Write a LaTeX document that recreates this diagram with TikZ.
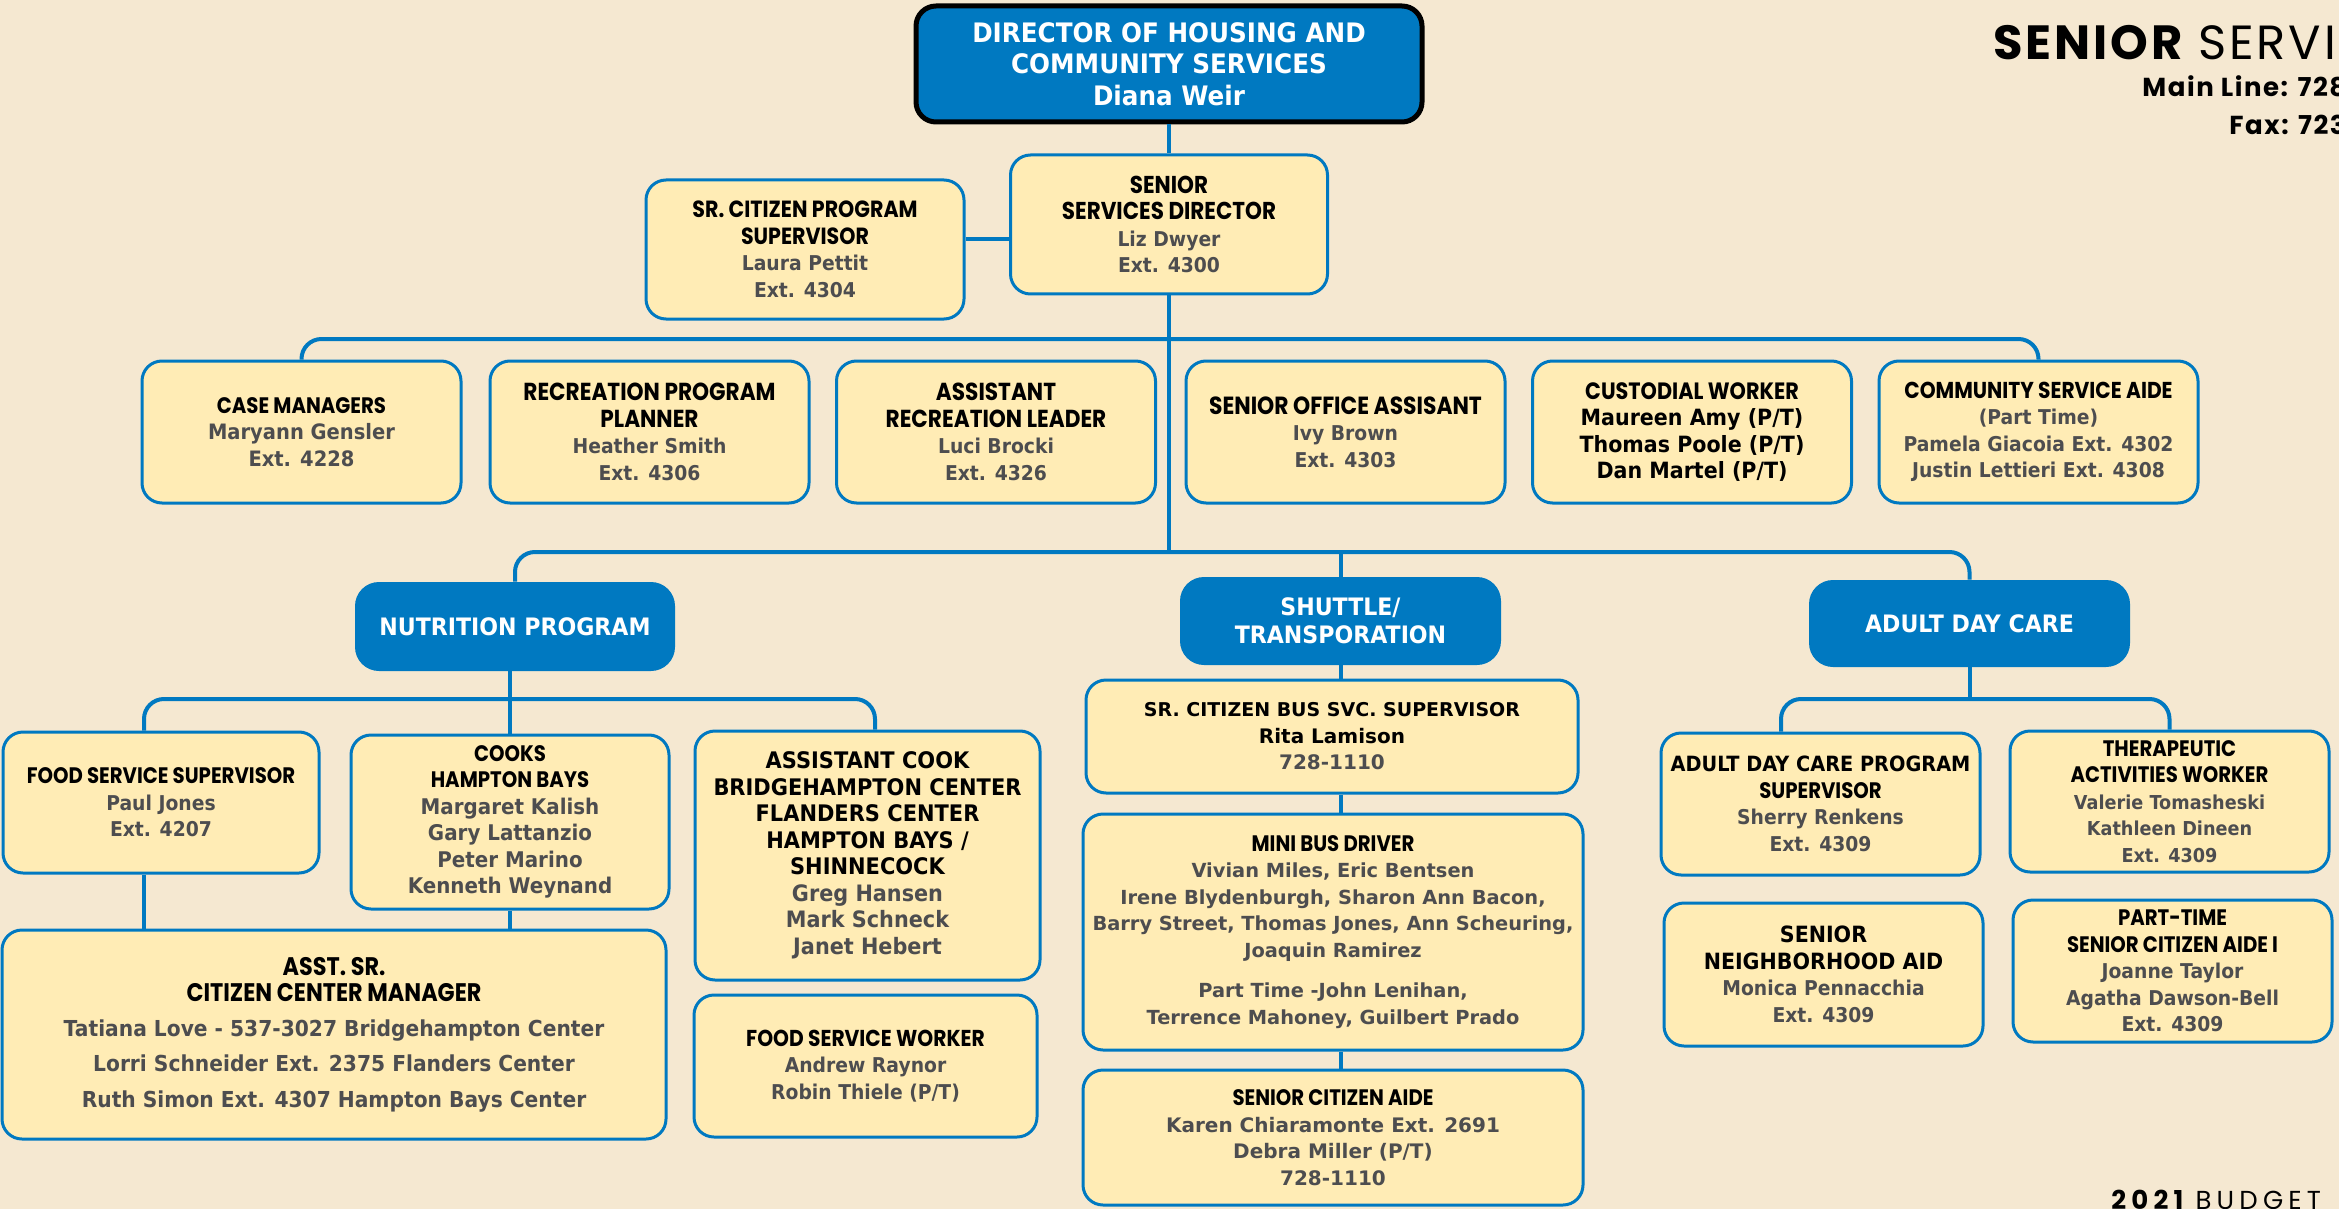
\documentclass[tikz,border=0pt]{standalone}
\usepackage{fontspec}
\setmainfont{DejaVu Sans}
\newfontfamily\headfont[FakeStretch=0.88]{Poppins}
\newfontfamily\namefont[FakeStretch=0.92]{DejaVu Sans}
\newfontfamily\wordfont{DejaVu Sans}
\newfontfamily\titlefont[LetterSpace=6]{Poppins}
\newfontfamily\spacedfont[LetterSpace=20]{Poppins}
\usetikzlibrary{positioning}

\definecolor{pagebg}{RGB}{245,232,209}
\definecolor{cardbg}{RGB}{255,236,181}
\definecolor{orgblue}{RGB}{0,121,193}
\definecolor{namegray}{RGB}{77,77,79}

\newcommand{\hd}[2][11.2]{{\headfont\bfseries\fontsize{#1}{13.25}\selectfont #2}}
\newcommand{\nm}[2][10.2]{{\namefont\bfseries\color{namegray}\fontsize{#1}{13.25}\selectfont #2}}
\newcommand{\bk}[2][10.2]{{\namefont\bfseries\fontsize{#1}{13.25}\selectfont #2}}
\newcommand{\vd}[2][9.7]{{\wordfont\bfseries\color{namegray}\fontsize{#1}{13.4}\selectfont #2}}
\newcommand{\vk}[2][10]{{\wordfont\bfseries\fontsize{#1}{13.4}\selectfont #2}}

\begin{document}
\begin{tikzpicture}[x=0.5pt,y=-0.5pt,
	card/.style={draw=orgblue, line width=1.5pt, fill=cardbg, rounded corners=10pt, align=center, inner sep=1pt, font=\fontsize{10}{13.25}\selectfont},
	head/.style={fill=orgblue, rounded corners=12pt, align=center, text=white, font=\namefont\bfseries\fontsize{12}{14}\selectfont},
	wh/.style 2 args={minimum width=#1*0.5pt, minimum height=#2*0.5pt},
	link/.style={draw=orgblue, line width=2pt},
	bus/.style={link, rounded corners=10pt}]
	\fill[pagebg] (0,0) rectangle (2339,1209);
	\useasboundingbox (0,0) rectangle (2339,1209);

	\node[anchor=base west, inner sep=0pt, font=\titlefont\fontsize{24}{24}\selectfont] (title) at (1993,60) {{\bfseries SENIOR} SERVIC};
	\node[anchor=base west, inner sep=0pt, font=\titlefont\bfseries\fontsize{13}{13}\selectfont] (mainline) at (2142,97) {Main Line: 728};
	\node[anchor=base west, inner sep=0pt, font=\titlefont\bfseries\fontsize{13}{13}\selectfont] (fax) at (2229,135) {Fax: 723};
	\node[anchor=base west, inner sep=0pt, font=\spacedfont\fontsize{13}{13}\selectfont] (budget) at (2111,1209) {{\bfseries 2021} BUDGET};

	\node[head, wh={506}{116}, draw=black, line width=2.5pt, rounded corners=10pt, font=\namefont\bfseries\fontsize{13.4}{15.8}\selectfont] (director) at (1169,64) {DIRECTOR OF HOUSING AND\\COMMUNITY SERVICES\\Diana Weir};
	\node[card, wh={317}{139}] (ssdir) at (1169,224.5) {\hd[12.2]{SENIOR}\\\hd[12.2]{SERVICES DIRECTOR}\\\nm{Liz Dwyer}\\\nm{Ext. 4300}};
	\node[card, wh={318}{139}] (scps) at (805,249.5) {\hd[11.7]{SR. CITIZEN PROGRAM}\\\hd[11.7]{SUPERVISOR}\\\nm{Laura Pettit}\\\nm{Ext. 4304}};

	% staff row
	\node[card, wh={319}{142}] (casemgr) at (301.5,432) {\hd{CASE MANAGERS}\\\nm[10.6]{Maryann Gensler}\\\nm[10.6]{Ext. 4228}};
	\node[card, wh={319}{142}] (recplan) at (649.5,432) {\hd[12.3]{RECREATION PROGRAM}\\\hd[12.3]{PLANNER}\\\nm{Heather Smith}\\\nm{Ext. 4306}};
	\node[card, wh={319}{142}] (asstrec) at (996,432) {\hd[12.3]{ASSISTANT}\\\hd[12.3]{RECREATION LEADER}\\\nm{Luci Brocki}\\\nm{Ext. 4326}};
	\node[card, wh={319}{142}] (offasst) at (1345.5,432) {\hd[12.4]{SENIOR OFFICE ASSISANT}\\\nm{Ivy Brown}\\\nm{Ext. 4303}};
	\node[card, wh={319}{142}] (custod) at (1692,432) {\hd[11.8]{CUSTODIAL WORKER}\\\bk[11.2]{Maureen Amy (P/T)}\\\bk[11.2]{Thomas Poole (P/T)}\\\bk[11.2]{Dan Martel (P/T)}};
	\node[card, wh={319}{142}] (commaide) at (2038.5,432) {\hd[11.5]{COMMUNITY SERVICE AIDE}\\\nm{(Part Time)}\\\nm{Pamela Giacoia Ext. 4302}\\\nm{Justin Lettieri Ext. 4308}};

	\node[head, wh={320}{89}] (nutr) at (515,626.5) {NUTRITION PROGRAM};
	\node[head, wh={321}{88}] (shuttle) at (1340.5,621) {SHUTTLE/\\TRANSPORATION};
	\node[head, wh={321}{87}] (adc) at (1969.5,623.5) {ADULT DAY CARE};

	% nutrition
	\node[card, wh={316}{141}] (fss) at (161,802.5) {\hd{FOOD SERVICE SUPERVISOR}\\\nm{Paul Jones}\\\nm{Ext. 4207}};
	\node[card, wh={318}{174}] (cooks) at (510,822) {\hd{COOKS}\\\hd{HAMPTON BAYS}\\\nm[10.8]{Margaret Kalish}\\\nm[10.8]{Gary Lattanzio}\\\nm[10.8]{Peter Marino}\\\nm[10.8]{Kenneth Weynand}};
	\node[card, wh={345}{249}] (asstcook) at (867.5,855.5) {\bk[11.4]{ASSISTANT COOK}\\\bk[11.4]{BRIDGEHAMPTON CENTER}\\\bk[11.4]{FLANDERS CENTER}\\\bk[11.4]{HAMPTON BAYS /}\\\bk[11.4]{SHINNECOCK}\\\nm[11.3]{Greg Hansen}\\\nm[11.3]{Mark Schneck}\\\nm[11.3]{Janet Hebert}};
	\node[card, wh={664}{209}] (asstsr) at (334,1034.5) {\hd[12.7]{ASST. SR.}\\\hd[12.7]{CITIZEN CENTER MANAGER}\\[4pt]\nm[11]{Tatiana Love - 537-3027 Bridgehampton Center}\\[4.5pt]\nm[11]{Lorri Schneider Ext. 2375 Flanders Center}\\[4.5pt]\nm[11]{Ruth Simon Ext. 4307 Hampton Bays Center}};
	\node[card, wh={343}{142}] (fsw) at (865.5,1066) {\hd[11.5]{FOOD SERVICE WORKER}\\\nm{Andrew Raynor}\\\nm{Robin Thiele (P/T)}};

	% shuttle
	\node[card, wh={492}{113}] (bussup) at (1332,736.5) {\vk[9.5]{SR. CITIZEN BUS SVC. SUPERVISOR}\\\vk{Rita Lamison}\\\vd[10]{728-1110}};
	\node[card, wh={500}{236}] (minibus) at (1333,932) {\hd{MINI BUS DRIVER}\\\vd{Vivian Miles, Eric Bentsen}\\\vd{Irene Blydenburgh, Sharon Ann Bacon,}\\\vd{Barry Street, Thomas Jones, Ann Scheuring,}\\\vd{Joaquin Ramirez}\\[7pt]\vd{Part Time -John Lenihan,}\\\vd{Terrence Mahoney, Guilbert Prado}};
	\node[card, wh={500}{135}] (aide) at (1333,1137.5) {\hd{SENIOR CITIZEN AIDE}\\\vd[10]{Karen Chiaramonte Ext. 2691}\\\vd[10]{Debra Miller (P/T)}\\\vd[10]{728-1110}};

	% adult day care
	\node[card, wh={319}{142}] (adcsup) at (1820.5,804) {\bk[10.5]{ADULT DAY CARE PROGRAM}\\\hd{SUPERVISOR}\\\nm{Sherry Renkens}\\\nm{Ext. 4309}};
	\node[card, wh={319}{141}] (therap) at (2169.5,801.5) {\hd{THERAPEUTIC}\\\hd{ACTIVITIES WORKER}\\\nm[9.6]{Valerie Tomasheski}\\\nm[9.6]{Kathleen Dineen}\\\nm[9.6]{Ext. 4309}};
	\node[card, wh={319}{143}] (sna) at (1823.5,974.5) {\bk[11.2]{SENIOR}\\\bk[11.2]{NEIGHBORHOOD AID}\\\nm{Monica Pennacchia}\\\nm{Ext. 4309}};
	\node[card, wh={319}{142}] (ptsca) at (2172.5,971) {\hd{PART-TIME}\\\hd{SENIOR CITIZEN AIDE I}\\\nm{Joanne Taylor}\\\nm{Agatha Dawson-Bell}\\\nm{Ext. 4309}};

	\coordinate (bus1) at (1169,339);
	\coordinate (bus2) at (1169,552);
	\coordinate (bus3) at (515,699);
	\coordinate (bus4) at (1970,699);

	\draw[link] (director.south) -- (director.south |- ssdir.north);
	\draw[link] ([yshift=5.25pt]scps.east) -- ([yshift=5.25pt]scps.east -| ssdir.west);
	\draw[link] (ssdir.south) -- (bus2);
	\draw[bus] (casemgr.north) -- (casemgr.north |- bus1) -- (commaide.north |- bus1) -- (commaide.north);
	\draw[bus] (nutr.north) -- (nutr.north |- bus2) -- (adc.north |- bus2) -- (adc.north);
	\draw[link] (shuttle.north |- bus2) -- (shuttle.north);

	\draw[link] (cooks.north |- nutr.south) -- (cooks.north);
	\draw[bus] ([xshift=-8.5pt]fss.north) -- ([xshift=-8.5pt]fss.north |- bus3) -- ([xshift=3.75pt]asstcook.north |- bus3) -- ([xshift=3.75pt]asstcook.north);
	\draw[link] ([xshift=-8.5pt]fss.south) -- ([xshift=-8.5pt]fss.south |- asstsr.north);
	\draw[link] (cooks.south) -- (cooks.south |- asstsr.north);

	\draw[link] (shuttle.south) -- (shuttle.south |- bussup.north);
	\draw[link] (shuttle.south |- bussup.south) -- (shuttle.south |- minibus.north);
	\draw[link] (shuttle.south |- minibus.south) -- (shuttle.south |- aide.north);

	\draw[link] (adc.south) -- (adc.south |- bus4);
	\draw[bus] ([xshift=-19.75pt]adcsup.north) -- ([xshift=-19.75pt]adcsup.north |- bus4) -- (therap.north |- bus4) -- (therap.north);
\end{tikzpicture}
\end{document}
